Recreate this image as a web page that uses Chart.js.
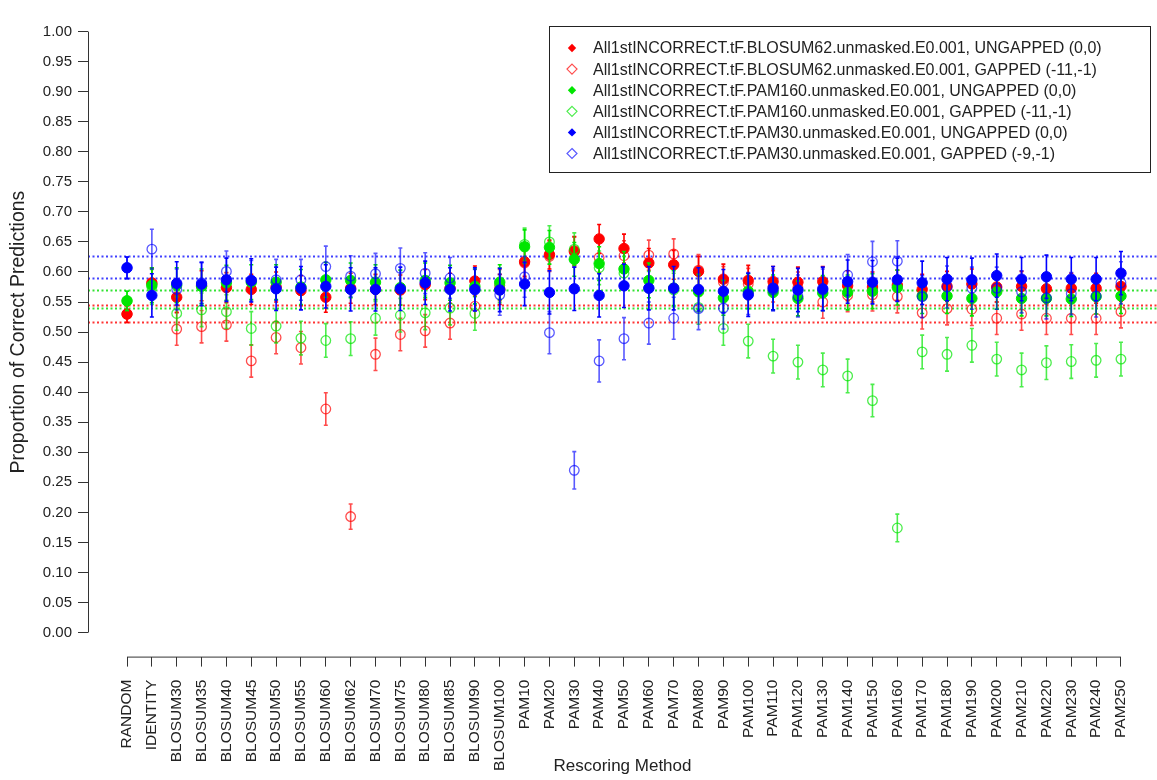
<!DOCTYPE html>
<html>
<head>
<meta charset="utf-8">
<script src="https://cdn.jsdelivr.net/npm/chart.js@4"></script>
<style>
  body { margin: 0; background: #fff; }
  canvas { display: block; }
</style>
</head>
<body>
<canvas id="chart" width="1157" height="780"></canvas>
<script>
const categories = ['RANDOM', 'IDENTITY', 'BLOSUM30', 'BLOSUM35', 'BLOSUM40', 'BLOSUM45', 'BLOSUM50', 'BLOSUM55',
  'BLOSUM60', 'BLOSUM62', 'BLOSUM70', 'BLOSUM75', 'BLOSUM80', 'BLOSUM85', 'BLOSUM90', 'BLOSUM100',
  'PAM10', 'PAM20', 'PAM30', 'PAM40', 'PAM50', 'PAM60', 'PAM70', 'PAM80', 'PAM90', 'PAM100',
  'PAM110', 'PAM120', 'PAM130', 'PAM140', 'PAM150', 'PAM160', 'PAM170', 'PAM180', 'PAM190', 'PAM200',
  'PAM210', 'PAM220', 'PAM230', 'PAM240', 'PAM250'];

const yTicks = [0, 0.05, 0.1, 0.15, 0.2, 0.25, 0.3, 0.35, 0.4, 0.45, 0.5, 0.55, 0.6, 0.65, 0.7, 0.75, 0.8, 0.85, 0.9, 0.95, 1.0];

// proportions, one value per category
const blosumUngapped = [0.530, 0.582, 0.558, 0.577, 0.574, 0.571, 0.575, 0.569, 0.558, 0.573, 0.571, 0.570, 0.579, 0.573, 0.585, 0.571,
  0.617, 0.629, 0.635, 0.655, 0.639, 0.615, 0.612, 0.601, 0.588, 0.586, 0.584, 0.583, 0.584, 0.577, 0.575, 0.578,
  0.571, 0.576, 0.580, 0.575, 0.576, 0.572, 0.573, 0.573, 0.576];
const blosumGapped = [0.530, 0.580, 0.505, 0.509, 0.512, 0.452, 0.491, 0.474, 0.372, 0.193, 0.463, 0.496, 0.502, 0.515, 0.543, 0.578,
  0.615, 0.626, 0.633, 0.624, 0.627, 0.628, 0.630, 0.603, 0.583, 0.580, 0.576, 0.574, 0.550, 0.561, 0.562, 0.559,
  0.532, 0.539, 0.538, 0.523, 0.530, 0.523, 0.523, 0.523, 0.534];
const pam160Ungapped = [0.552, 0.578, 0.578, 0.576, 0.582, 0.583, 0.583, 0.575, 0.587, 0.586, 0.583, 0.574, 0.586, 0.582, 0.576, 0.583,
  0.642, 0.641, 0.621, 0.614, 0.605, 0.586, 0.573, 0.567, 0.557, 0.568, 0.566, 0.556, 0.565, 0.566, 0.568, 0.574,
  0.560, 0.560, 0.556, 0.567, 0.556, 0.556, 0.555, 0.559, 0.560];
const pam160Gapped = [0.552, 0.575, 0.531, 0.537, 0.534, 0.506, 0.510, 0.490, 0.486, 0.489, 0.523, 0.528, 0.532, 0.540, 0.531, 0.578,
  0.646, 0.650, 0.638, 0.607, 0.598, 0.573, 0.570, 0.541, 0.506, 0.485, 0.460, 0.450, 0.437, 0.427, 0.386, 0.174,
  0.467, 0.463, 0.478, 0.455, 0.437, 0.449, 0.451, 0.453, 0.455];
const pam30Ungapped = [0.607, 0.561, 0.581, 0.580, 0.587, 0.586, 0.572, 0.573, 0.576, 0.571, 0.571, 0.572, 0.582, 0.571, 0.571, 0.570,
  0.580, 0.566, 0.572, 0.561, 0.577, 0.573, 0.573, 0.571, 0.568, 0.562, 0.573, 0.570, 0.572, 0.584, 0.583, 0.587,
  0.582, 0.588, 0.587, 0.594, 0.588, 0.592, 0.588, 0.588, 0.598];
const pam30Gapped = [0.607, 0.638, 0.571, 0.582, 0.601, 0.585, 0.587, 0.587, 0.609, 0.593, 0.597, 0.606, 0.598, 0.590, 0.570, 0.562,
  0.592, 0.499, 0.270, 0.452, 0.489, 0.515, 0.523, 0.539, 0.540, 0.564, 0.570, 0.560, 0.570, 0.595, 0.617, 0.618,
  0.559, 0.575, 0.573, 0.573, 0.567, 0.557, 0.564, 0.560, 0.582];

// error bar half widths
const blosumUngappedErr = [0.014, 0.025, 0.025, 0.025, 0.025, 0.025, 0.025, 0.025, 0.025, 0.025, 0.025, 0.025, 0.025, 0.025, 0.025, 0.025,
  0.024, 0.024, 0.024, 0.024, 0.024, 0.024, 0.024, 0.025, 0.025, 0.025, 0.025, 0.025, 0.025, 0.025, 0.025, 0.025,
  0.025, 0.025, 0.025, 0.025, 0.025, 0.025, 0.025, 0.025, 0.025];
const blosumGappedErr = [0.014, 0.026, 0.027, 0.027, 0.027, 0.027, 0.027, 0.027, 0.027, 0.021, 0.027, 0.027, 0.027, 0.027, 0.027, 0.026,
  0.025, 0.025, 0.025, 0.025, 0.025, 0.025, 0.025, 0.026, 0.026, 0.026, 0.026, 0.026, 0.027, 0.027, 0.027, 0.027,
  0.027, 0.027, 0.027, 0.027, 0.027, 0.027, 0.027, 0.027, 0.027];
const pam160UngappedErr = [0.016, 0.029, 0.029, 0.029, 0.029, 0.029, 0.029, 0.029, 0.029, 0.029, 0.029, 0.029, 0.029, 0.029, 0.029, 0.029,
  0.028, 0.028, 0.028, 0.028, 0.029, 0.029, 0.029, 0.029, 0.029, 0.029, 0.029, 0.029, 0.029, 0.029, 0.029, 0.029,
  0.029, 0.029, 0.029, 0.029, 0.029, 0.029, 0.029, 0.029, 0.029];
const pam160GappedErr = [0.016, 0.029, 0.028, 0.028, 0.028, 0.028, 0.028, 0.028, 0.028, 0.028, 0.028, 0.028, 0.028, 0.028, 0.028, 0.029,
  0.027, 0.027, 0.027, 0.028, 0.028, 0.028, 0.028, 0.028, 0.028, 0.028, 0.028, 0.028, 0.028, 0.028, 0.027, 0.023,
  0.028, 0.028, 0.028, 0.028, 0.028, 0.028, 0.028, 0.028, 0.028];
const pam30UngappedErr = [0.018, 0.036, 0.036, 0.036, 0.036, 0.036, 0.036, 0.036, 0.036, 0.036, 0.036, 0.036, 0.036, 0.036, 0.036, 0.036,
  0.036, 0.036, 0.036, 0.036, 0.036, 0.036, 0.036, 0.036, 0.036, 0.036, 0.036, 0.036, 0.036, 0.036, 0.036, 0.036,
  0.036, 0.036, 0.036, 0.036, 0.036, 0.036, 0.036, 0.036, 0.036];
const pam30GappedErr = [0.018, 0.033, 0.034, 0.034, 0.034, 0.034, 0.034, 0.034, 0.034, 0.034, 0.034, 0.034, 0.034, 0.034, 0.034, 0.034,
  0.034, 0.035, 0.031, 0.035, 0.035, 0.035, 0.035, 0.035, 0.035, 0.035, 0.035, 0.035, 0.035, 0.034, 0.034, 0.034,
  0.035, 0.035, 0.035, 0.035, 0.035, 0.035, 0.035, 0.035, 0.035];

// dotted horizontal reference levels
const refRed = [0.5452, 0.517];
const refGreen = [0.5696, 0.5398];
const refBlue = [0.6265, 0.5897];

const legendLabels = [
  'All1stINCORRECT.tF.BLOSUM62.unmasked.E0.001, UNGAPPED (0,0)',
  'All1stINCORRECT.tF.BLOSUM62.unmasked.E0.001, GAPPED (-11,-1)',
  'All1stINCORRECT.tF.PAM160.unmasked.E0.001, UNGAPPED (0,0)',
  'All1stINCORRECT.tF.PAM160.unmasked.E0.001, GAPPED (-11,-1)',
  'All1stINCORRECT.tF.PAM30.unmasked.E0.001, UNGAPPED (0,0)',
  'All1stINCORRECT.tF.PAM30.unmasked.E0.001, GAPPED (-9,-1)'
];

const FONT = '"Liberation Sans", Arial, sans-serif';
const RED = 'rgb(255,0,0)', RED_O = 'rgba(255,0,0,0.7)';
const GREEN = 'rgb(0,230,0)', GREEN_O = 'rgba(0,230,0,0.7)';
const BLUE = 'rgb(0,0,255)', BLUE_O = 'rgba(0,0,255,0.65)';

function pts(values) {
  return values.map((v, i) => ({ x: i, y: v }));
}

function makeSet(label, values, errs, color, filled, order) {
  return {
    label: label,
    data: pts(values),
    errors: errs,
    showLine: false,
    order: order,
    borderColor: color,
    backgroundColor: filled ? color : 'rgba(0,0,0,0)',
    pointBackgroundColor: filled ? color : 'rgba(0,0,0,0)',
    pointBorderColor: color,
    pointBorderWidth: filled ? 1 : 1.3,
    pointRadius: filled ? 5.2 : 4.8,
    filled: filled
  };
}

const extras = {
  id: 'extras',
  beforeDatasetsDraw(chart) {
    const ctx = chart.ctx, area = chart.chartArea, y = chart.scales.y;
    ctx.save();
    ctx.lineWidth = 1.8;
    ctx.setLineDash([2, 2.5]);
    [[refRed, 'rgba(255,0,0,0.8)'], [refGreen, 'rgba(0,220,0,0.8)'], [refBlue, 'rgba(0,0,255,0.75)']].forEach(function (r) {
      ctx.strokeStyle = r[1];
      r[0].forEach(function (v) {
        const py = Math.round(y.getPixelForValue(v)) + 0.5;
        ctx.beginPath();
        ctx.moveTo(area.left, py);
        ctx.lineTo(area.right, py);
        ctx.stroke();
      });
    });
    ctx.restore();
  },
  beforeDatasetDraw(chart, args) {
    const ds = chart.data.datasets[args.index];
    const ctx = chart.ctx, y = chart.scales.y;
    ctx.save();
    ctx.strokeStyle = ds.borderColor;
    ctx.lineWidth = 1.6;
    args.meta.data.forEach(function (p, i) {
      const v = ds.data[i].y, e = ds.errors[i];
      const top = y.getPixelForValue(v + e), bot = y.getPixelForValue(v - e);
      ctx.beginPath();
      ctx.moveTo(p.x, top); ctx.lineTo(p.x, bot);
      ctx.moveTo(p.x - 2, top); ctx.lineTo(p.x + 2, top);
      ctx.moveTo(p.x - 2, bot); ctx.lineTo(p.x + 2, bot);
      ctx.stroke();
    });
    ctx.restore();
  },
  afterDraw(chart) {
    const ctx = chart.ctx, area = chart.chartArea, x = chart.scales.x, y = chart.scales.y;
    ctx.save();
    // R style axis lines
    ctx.strokeStyle = '#333';
    ctx.lineWidth = 1;
    ctx.beginPath();
    ctx.moveTo(area.left + 0.5, y.getPixelForValue(0));
    ctx.lineTo(area.left + 0.5, y.getPixelForValue(1));
    ctx.moveTo(x.getPixelForValue(0), area.bottom + 0.5);
    ctx.lineTo(x.getPixelForValue(categories.length - 1), area.bottom + 0.5);
    ctx.stroke();

    // axis titles
    ctx.fillStyle = '#222';
    ctx.font = '17px ' + FONT;
    ctx.textAlign = 'center';
    ctx.textBaseline = 'middle';
    ctx.fillText('Rescoring Method', (area.left + area.right) / 2, 766);
    ctx.save();
    ctx.translate(19, (y.getPixelForValue(0) + y.getPixelForValue(1)) / 2);
    ctx.rotate(-Math.PI / 2);
    ctx.font = '19.5px ' + FONT;
    ctx.fillText('Proportion of Correct Predictions', 0, 0);
    ctx.restore();

    // legend box
    ctx.fillStyle = '#fff';
    ctx.fillRect(549, 26, 602, 147);
    ctx.strokeStyle = '#222';
    ctx.strokeRect(549.5, 26.5, 601, 146);
    const sets = chart.data.datasets.slice().sort((a, b) => b.order - a.order);
    sets.forEach(function (ds, i) {
      const cy = 48 + i * 21.1, cx = 572;
      ctx.beginPath();
      if (ds.filled) {
        ctx.moveTo(cx, cy - 4.2); ctx.lineTo(cx + 4.2, cy); ctx.lineTo(cx, cy + 4.2); ctx.lineTo(cx - 4.2, cy);
        ctx.closePath();
        ctx.fillStyle = ds.borderColor;
        ctx.fill();
      } else {
        ctx.moveTo(cx, cy - 5); ctx.lineTo(cx + 5, cy); ctx.lineTo(cx, cy + 5); ctx.lineTo(cx - 5, cy);
        ctx.closePath();
        ctx.strokeStyle = ds.borderColor;
        ctx.lineWidth = 1.2;
        ctx.stroke();
      }
      ctx.fillStyle = '#222';
      ctx.font = '16px ' + FONT;
      ctx.textAlign = 'left';
      ctx.textBaseline = 'middle';
      ctx.fillText(ds.label, 593, cy + 1);
    });
    ctx.restore();
  }
};

const chart = new Chart(document.getElementById('chart').getContext('2d'), {
  type: 'scatter',
  data: {
    datasets: [
      makeSet(legendLabels[0], blosumUngapped, blosumUngappedErr, RED, true, 6),
      makeSet(legendLabels[1], blosumGapped, blosumGappedErr, RED_O, false, 5),
      makeSet(legendLabels[2], pam160Ungapped, pam160UngappedErr, GREEN, true, 4),
      makeSet(legendLabels[3], pam160Gapped, pam160GappedErr, GREEN_O, false, 3),
      makeSet(legendLabels[4], pam30Ungapped, pam30UngappedErr, BLUE, true, 2),
      makeSet(legendLabels[5], pam30Gapped, pam30GappedErr, BLUE_O, false, 1)
    ]
  },
  options: {
    responsive: false,
    animation: false,
    devicePixelRatio: 1,
    layout: { padding: 0, autoPadding: false },
    plugins: { legend: { display: false }, tooltip: { enabled: false } },
    scales: {
      x: {
        type: 'linear',
        min: -1.57,
        max: 41.45,
        afterBuildTicks: function (s) { s.ticks = categories.map((c, i) => ({ value: i })); },
        afterFit: function (s) { s.height = 123.4; },
        border: { display: false },
        grid: { drawOnChartArea: false, drawTicks: true, tickLength: 10, color: '#333' },
        ticks: {
          autoSkip: false,
          minRotation: 90,
          maxRotation: 90,
          padding: 13,
          color: '#222',
          font: { family: FONT, size: 15.5 },
          callback: function (v) { return categories[v]; }
        }
      },
      y: {
        type: 'linear',
        min: -0.04,
        max: 1.0276,
        afterBuildTicks: function (s) { s.ticks = yTicks.map(v => ({ value: v })); },
        afterFit: function (s) { s.width = 88; },
        border: { display: false },
        grid: { drawOnChartArea: false, drawTicks: true, tickLength: 10, color: '#333' },
        ticks: {
          padding: 6,
          color: '#222',
          font: { family: FONT, size: 15 },
          callback: function (v) { return v.toFixed(2); }
        }
      }
    }
  },
  plugins: [extras]
});
</script>
</body>
</html>
